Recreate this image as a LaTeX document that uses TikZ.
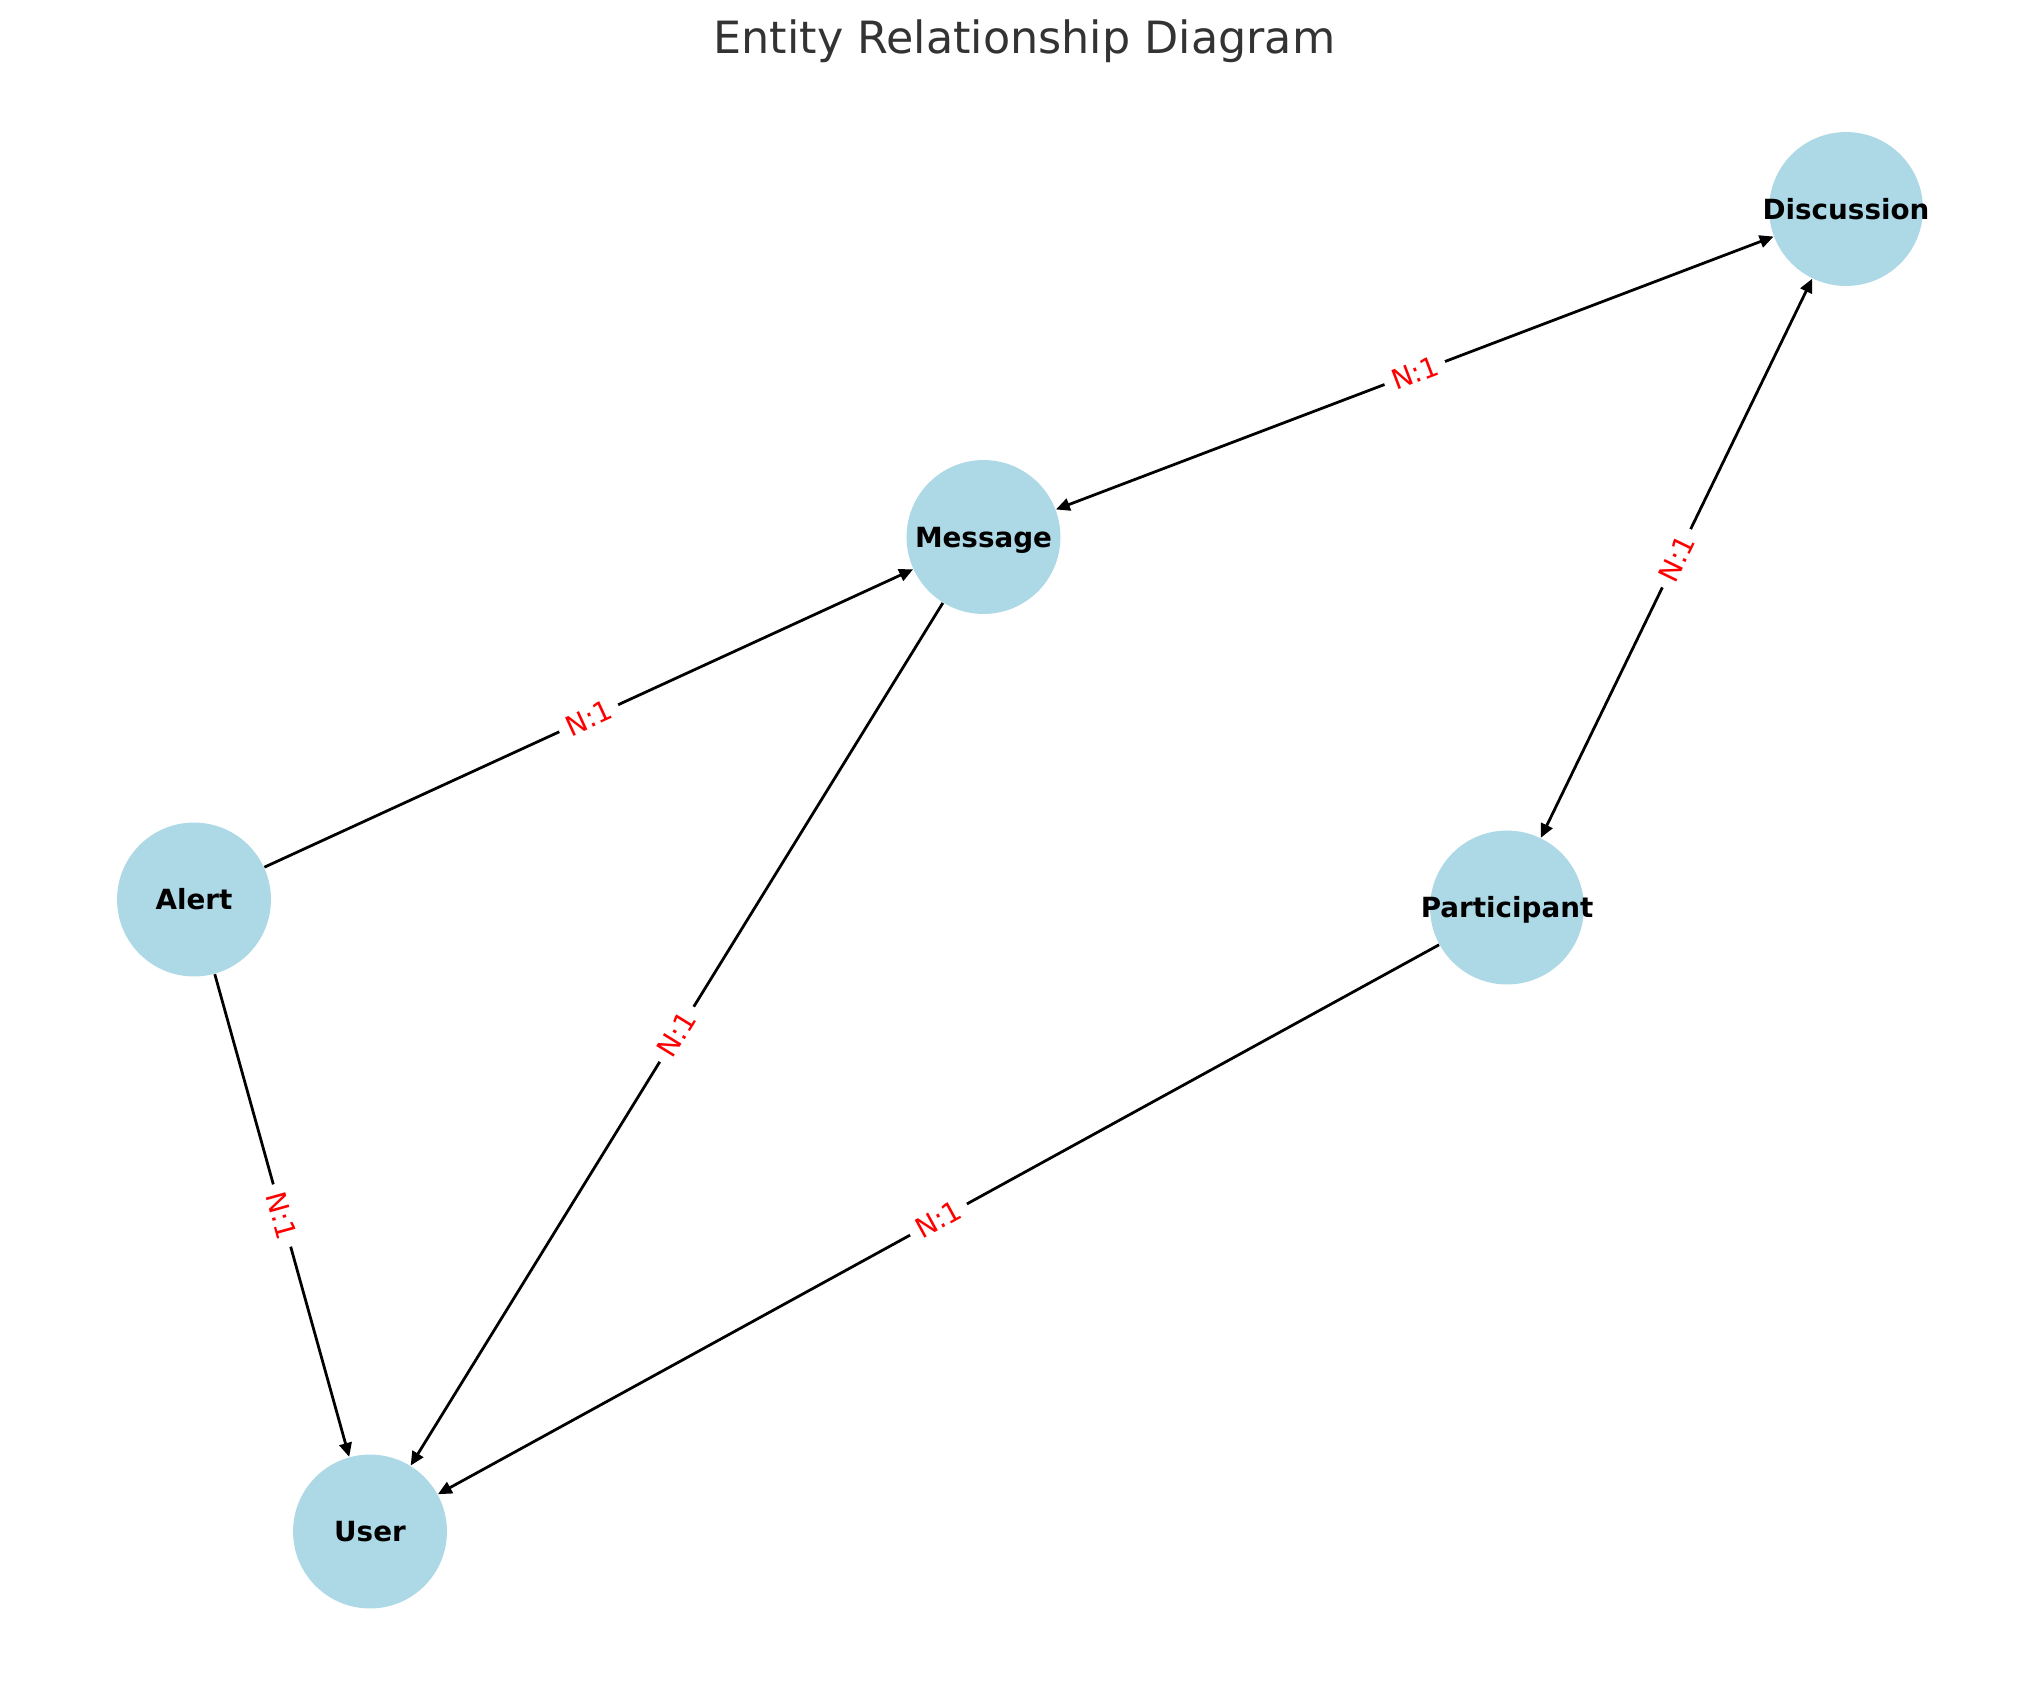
\documentclass[tikz,border=0pt]{standalone}
\usepackage{fontspec}
\setmainfont{DejaVu Sans}
\usetikzlibrary{arrows.meta}
\definecolor{nodeblue}{HTML}{ADD8E6}
\definecolor{titlegray}{HTML}{333333}
\begin{document}
\begin{tikzpicture}[x=0.36pt,y=-0.36pt,
  entity/.style={circle,fill=nodeblue,draw=none,minimum size=55.4pt,inner sep=0pt},
  entlabel/.style={font=\fontsize{10}{12}\selectfont\bfseries,text=black,text height=7.3pt,text depth=0pt,inner sep=0pt},
  rel/.style={draw=black,line width=1pt,-{Triangle[length=5pt,width=4.5pt]}},
  birel/.style={draw=black,line width=1pt,{Triangle[length=5pt,width=4.5pt]}-{Triangle[length=5pt,width=4.5pt]}},
  card/.style={font=\fontsize{10}{12}\selectfont,text=red,fill=white,rounded corners=2pt,inner sep=3pt,sloped,midway},
  titlestyle/.style={font=\fontsize{16}{19}\selectfont,text=titlegray,inner sep=0pt,anchor=base}]
\useasboundingbox[fill=white] (0,0) rectangle (2039,1690);
\node[titlestyle] (title) at (1024.5,53) {Entity Relationship Diagram};

\node[entity,label={[entlabel]center:Discussion}] (discussion) at (1846,209) {};
\node[entity,label={[entlabel]center:Message}] (message) at (983.5,537) {};
\node[entity,label={[entlabel]center:Alert}] (alert) at (194,899.5) {};
\node[entity,label={[entlabel]center:Participant}] (participant) at (1507,907.5) {};
\node[entity,label={[entlabel]center:User}] (user) at (370,1531.5) {};

\draw[rel] (alert) -- node[card] (l1) {N:1} (message);
\draw[birel] (message) -- node[card] (l2) {N:1} (discussion);
\draw[birel] (participant) -- node[card] (l3) {N:1} (discussion);
\draw[rel] (alert) -- node[card] (l4) {N:1} (user);
\draw[rel] (message) -- node[card] (l5) {N:1} (user);
\draw[rel] (participant) -- node[card] (l6) {N:1} (user);
\end{tikzpicture}
\end{document}
